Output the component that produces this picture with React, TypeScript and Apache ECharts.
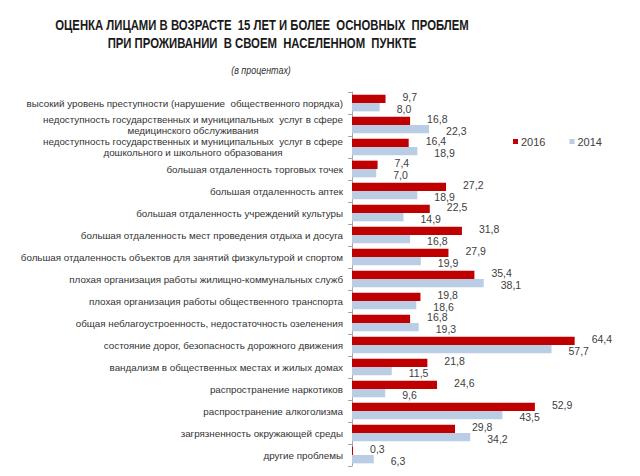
import React, { useEffect, useRef } from "react";
import * as echarts from "echarts";

const categories: string[] = [
  "высокий уровень преступности (нарушение  общественного порядка)",
  "недоступность государственных и муниципальных  услуг в сфере\nмедицинского обслуживания",
  "недоступность государственных и муниципальных  услуг в сфере\nдошкольного и школьного образования",
  "большая отдаленность торговых точек",
  "большая отдаленность аптек",
  "большая отдаленность учреждений культуры",
  "большая отдаленность мест проведения отдыха и досуга",
  "большая отдаленность объектов для занятий физкультурой и спортом",
  "плохая организация работы жилищно-коммунальных служб",
  "плохая организация работы общественного транспорта",
  "общая неблагоустроенность, недостаточность озеленения",
  "состояние дорог, безопасность дорожного движения",
  "вандализм в общественных местах и жилых домах",
  "распространение наркотиков",
  "распространение алкоголизма",
  "загрязненность окружающей среды",
  "другие проблемы",
];

const values2016: number[] = [9.7, 16.8, 16.4, 7.4, 27.2, 22.5, 31.8, 27.9, 35.4, 19.8, 16.8, 64.4, 21.8, 24.6, 52.9, 29.8, 0.3];
const values2014: number[] = [8.0, 22.3, 18.9, 7.0, 18.9, 14.9, 16.8, 19.9, 38.1, 18.6, 19.3, 57.7, 11.5, 9.6, 43.5, 34.2, 6.3];

const seriesNames: string[] = ["2016", "2014"];
const titleLines: string[] = [
  "ОЦЕНКА ЛИЦАМИ В ВОЗРАСТЕ  15 ЛЕТ И БОЛЕЕ  ОСНОВНЫХ  ПРОБЛЕМ",
  "ПРИ ПРОЖИВАНИИ  В СВОЕМ  НАСЕЛЕННОМ  ПУНКТЕ",
];
const subtitleText = "(в процентах)";

const fmt = (v: number) => v.toFixed(1).replace(".", ",");

export default function App() {
  const ref = useRef<HTMLDivElement>(null);
  useEffect(() => {
    document.body.style.margin = "0";
    const chart = echarts.init(ref.current!, undefined, { renderer: "svg" });
    const labelColor = "#404040";
    const ff = "'Liberation Sans', Arial, sans-serif";
    const titleStyle = (t: string) => ({
      text: t,
      align: "center",
      verticalAlign: "middle",
      font: "bold 14px " + ff,
      fill: "#1a1a1a",
    });
    const valueLabel = (dy: number) => ({
      show: true,
      position: "right",
      distance: 17,
      offset: [0, dy],
      fontSize: 10.5,
      lineHeight: 9,
      color: labelColor,
      fontFamily: ff,
      formatter: (p: any) => fmt(p.value),
    });
    chart.setOption({
      animation: false,
      backgroundColor: "#ffffff",
      graphic: [
        { type: "text", x: 262, y: 25, scaleX: 0.81, style: titleStyle(titleLines[0]) },
        { type: "text", x: 262, y: 43, scaleX: 0.81, style: titleStyle(titleLines[1]) },
        {
          type: "text",
          x: 261,
          y: 70,
          scaleX: 0.85,
          style: {
            text: subtitleText,
            align: "center",
            verticalAlign: "middle",
            font: "italic 10.5px " + ff,
            fill: "#333333",
          },
        },
      ],
      legend: {
        left: 508,
        top: 131,
        itemWidth: 5,
        itemHeight: 5,
        itemGap: 24,
        icon: "rect",
        textStyle: { fontSize: 11, color: labelColor, fontFamily: ff, padding: [0, 0, 0, -2] },
        data: seriesNames,
      },
      grid: { left: 352, top: 92, width: 242, height: 374, containLabel: false },
      xAxis: {
        type: "value",
        min: 0,
        max: 70,
        show: false,
      },
      yAxis: {
        type: "category",
        inverse: true,
        data: categories,
        axisLine: { show: true, lineStyle: { color: "#a6a6a6", width: 1 } },
        axisTick: { show: true, length: 4, lineStyle: { color: "#a6a6a6" } },
        axisLabel: {
          margin: 9,
          fontSize: 9.8,
          lineHeight: 10.5,
          color: "#333333",
          fontFamily: ff,
          formatter: (v: string) =>
            v
              .split("\n")
              .map((l) => "{c|" + l + "}")
              .join("\n"),
          rich: {
            c: { align: "center", fontSize: 9.8, lineHeight: 10.5, color: "#333333", fontFamily: ff },
          },
        },
        splitLine: { show: false },
      },
      series: [
        {
          name: seriesNames[0],
          type: "bar",
          data: values2016,
          barGap: "0%",
          barCategoryGap: "24%",
          itemStyle: { color: "#c00000" },
          label: valueLabel(-1.6),
        },
        {
          name: seriesNames[1],
          type: "bar",
          data: values2014,
          barGap: "0%",
          barCategoryGap: "24%",
          itemStyle: { color: "#b9cde5" },
          label: valueLabel(1.6),
        },
      ],
    });
    return () => chart.dispose();
  }, []);
  return <div ref={ref} style={{ width: 640, height: 476 }} />;
}
